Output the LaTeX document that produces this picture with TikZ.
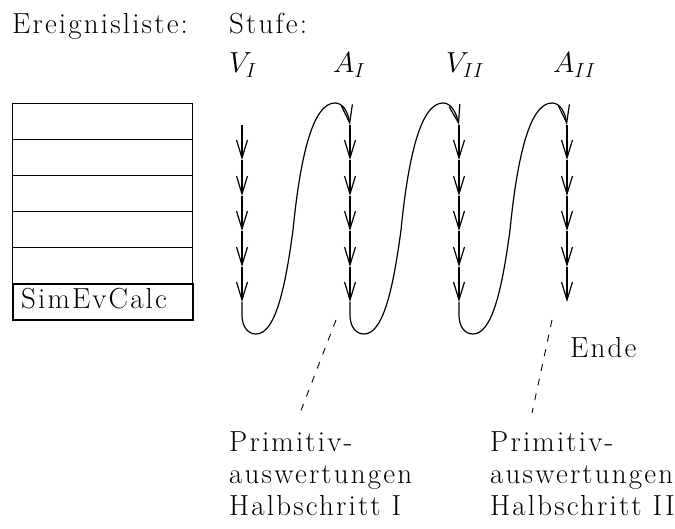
\RequirePackage{fix-cm}
\documentclass[tikz,border=0pt]{standalone}
\usepackage{fontspec}
\setmainfont{Latin Modern Roman}[LetterSpace=7.5]
\usetikzlibrary{arrows.meta}
\tikzset{
  lbl/.style={anchor=base west, inner sep=0pt, font=\fontsize{29}{32}\selectfont, align=left},
  ln/.style={line width=1.2pt},
  barb/.style={ln, -{Straight Barb[length=18pt,width=11pt,line width=1.2pt]}},
  cell/.style={draw, line width=1.2pt, minimum width=180pt, minimum height=36pt, inner sep=0pt, anchor=north west},
  lastcell/.style={cell, line width=2.2pt, text width=172pt, align=left},
  guide/.style={line width=0.9pt, dash pattern=on 7pt off 8pt},
}
\begin{document}
\begin{tikzpicture}[x=1pt,y=-1pt]
\useasboundingbox (0,0) rectangle (675,529);
% headings
\node[lbl] (hEl) at (12,34) {Ereignisliste:};
\node[lbl] (hSt) at (229,34) {Stufe:};
\node[lbl] (hV1) at (229,73) {$V_I$};
\node[lbl] (hA1) at (333,73) {$A_I$};
\node[lbl] (hV2) at (446,73) {$V_{II}$};
\node[lbl] (hA2) at (553,73) {$A_{II}$};
% event list
\foreach \i [evaluate=\i as \yy using 103+36*\i] in {0,...,4}
  \node[cell] (r\i) at (12,\yy) {};
\node[lastcell, font=\fontsize{29}{32}\selectfont] (sim) at (12,283) {\strut\hspace{4pt}SimEvCalc};
% columns of arrows
\foreach \c/\x in {1/242,2/350,3/459,4/567}{
  \foreach \k/\y in {0/125,1/160,2/196,3/231,4/267,5/302}
    \coordinate (p\c-\k) at (\x,\y);
  \foreach \k [evaluate=\k as \kk using int(\k-1)] in {1,...,5}
    \draw[barb] (p\c-\kk) -- (p\c-\k);
}
% connecting S-curves
\foreach \c/\x/\n in {1/242/2,2/350/3,3/459/4}{
  \draw[barb] (p\c-5) -- (\x,315)
    .. controls (\x,327) and (\x+6,334) .. (\x+14,334)
    .. controls (\x+33,334) and (\x+43,290) .. (\x+51,230)
    .. controls (\x+58,160) and (\x+70,103) .. (\x+93,103)
    .. controls (\x+101,103) and (\x+106,112) .. (p\n-0);
}
% dashed guides
\coordinate (g1a) at (336,320);
\coordinate (g1b) at (300,413);
\coordinate (g2a) at (552,320);
\coordinate (g2b) at (532,413);
\draw[guide] (g1a) -- (g1b);
\draw[guide] (g2a) -- (g2b);
\node[lbl] (ende) at (570,358) {Ende};
\node[lbl] (pw1) at (229,515) {Primitiv-\\auswertungen\\Halbschritt I};
\node[lbl] (pw2) at (490,515) {Primitiv-\\auswertungen\\Halbschritt II};
\end{tikzpicture}
\end{document}
